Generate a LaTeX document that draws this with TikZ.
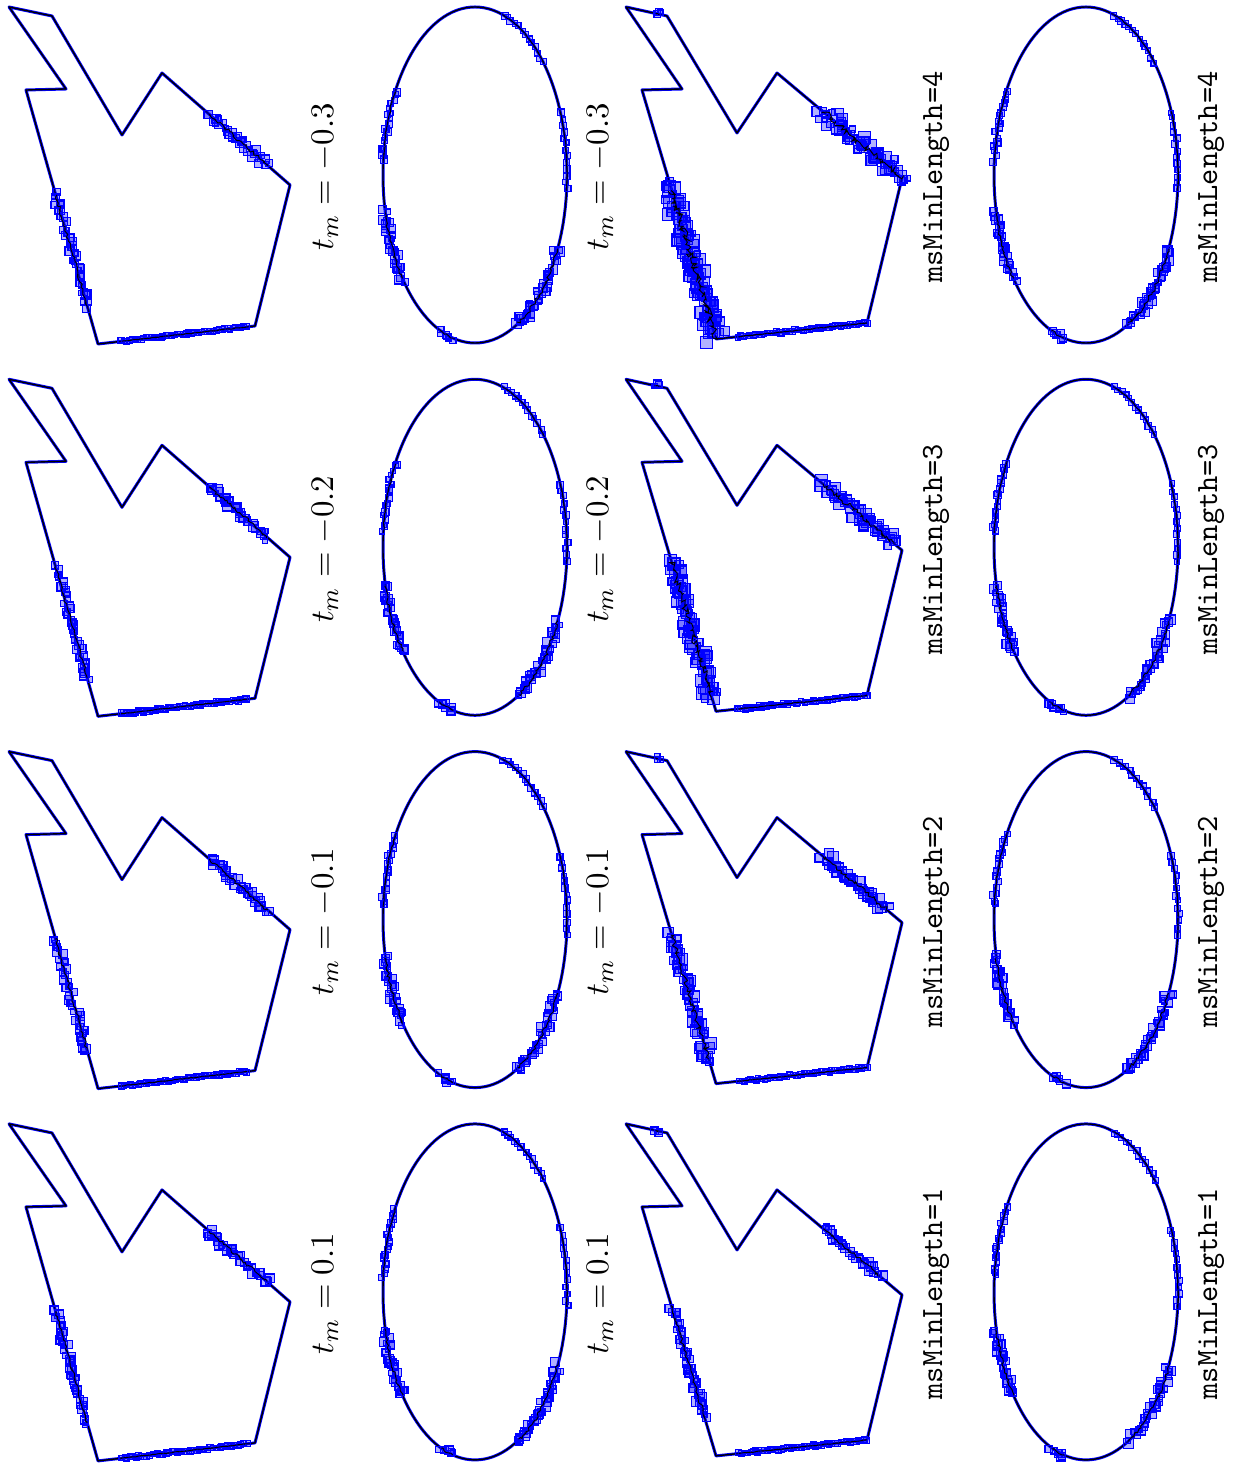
\documentclass[tikz,border=0pt]{standalone}
\usetikzlibrary{calc}

\newcommand\segclust[6]{%
  \pgfmathsetmacro\tst{#3}\pgfmathsetmacro\ten{#4}%
  \pgfmathtruncatemacro\nn{#5}\pgfmathsetmacro\ww{#6}%
  \foreach \k in {0,...,\nn}{
    \pgfmathsetmacro\tpos{\tst+(\ten-\tst)*\k/\nn}
    \pgfmathsetmacro\sqs{min(5+0.6*\ww*rnd,12)}
    \draw[sq] ($(#1)!\tpos!(#2)+({0.5*\ww*rand},{0.5*\ww*rand})$)
      ++(-\sqs/2,-\sqs/2) rectangle ++(\sqs,\sqs);
  }
  \draw[zig] ($(#1)!\tst!(#2)$) \foreach \k [evaluate=\k as \tpos using \tst+(\ten-\tst)*\k/\nn] in {1,...,\nn}{
    -- ($(#1)!\tpos!(#2)+({0.2*\ww*rand},{0.2*\ww*rand})$)};
}
\newcommand\ellclust[5]{%
  \pgfmathsetmacro\aone{#2}\pgfmathsetmacro\atwo{#3}%
  \pgfmathtruncatemacro\nn{#4}\pgfmathsetmacro\ww{#5}%
  \foreach \k in {0,...,\nn}{
    \pgfmathsetmacro\apos{(\aone)+((\atwo)-(\aone))*\k/\nn}
    \pgfmathsetmacro\sqs{5+0.6*\ww*rnd}
    \draw[sq] ($(#1)+({92*cos(\apos)+0.5*\ww*rand},{168*sin(\apos)+0.5*\ww*rand})$)
      ++(-\sqs/2,-\sqs/2) rectangle ++(\sqs,\sqs);
  }
  \draw[zig] ($(#1)+({92*cos(\aone)},{168*sin(\aone)})$) \foreach \k [evaluate=\k as \apos using (\aone)+((\atwo)-(\aone))*\k/\nn] in {1,...,\nn}{
    -- ($(#1)+({92*cos(\apos)+0.2*\ww*rand},{168*sin(\apos)+0.2*\ww*rand})$)};
}
\newcommand\ellset[1]{%
  \ellclust{#1}{-72}{-42}{12}{3}
  \ellclust{#1}{-22}{5}{12}{3}
  \ellclust{#1}{26}{62}{36}{8}
  \ellclust{#1}{104}{112}{6}{6}
  \ellclust{#1}{142}{167}{30}{7}
  \ellclust{#1}{185}{210}{16}{4}
}

\begin{document}
\begin{tikzpicture}[x=0.3333pt, y=-0.3333pt,
  halo/.style={blue, line width=1pt, line join=round},
  core/.style={black, line width=0.45pt, line join=round},
  sq/.style={draw=blue, fill=blue, fill opacity=0.3, line width=0.4pt},
  zig/.style={black, line width=0.3pt},
  tmlbl/.style={rotate=90, font=\fontsize{10.95}{13}\selectfont},
  mslbl/.style={rotate=90, font=\fontsize{10.3}{12}\selectfont\ttfamily}
]
\pgfmathsetseed{11}
\useasboundingbox (0,0) rectangle (1232,1464);
\foreach \r/\tm/\ms in {0/-0.3/4, 1/-0.2/3, 2/-0.1/2, 3/0.1/1}{
\begin{scope}[shift={(0,372.3*\r)}]
  \coordinate (v1) at (9,7);    \coordinate (v2) at (52,16);
  \coordinate (v3) at (122,135); \coordinate (v4) at (162,73);
  \coordinate (v5) at (290,185); \coordinate (v6) at (255,326);
  \coordinate (v7) at (98,344);  \coordinate (v8) at (26,90);
  \coordinate (v9) at (66,89);
  \foreach \st in {halo,core}
    \draw[\st] (v1) -- (v2) -- (v3) -- (v4) -- (v5) -- (v6) -- (v7) -- (v8) -- (v9) -- cycle;
  \segclust{v4}{v5}{0.37}{0.82}{32}{8}
  \segclust{v7}{v8}{0.15}{0.59}{40}{7}
  \segclust{v6}{v7}{0.05}{0.85}{45}{2}

  \coordinate (ce) at (475,175);
  \foreach \st in {halo,core}
    \draw[\st] (ce) ellipse [x radius=92, y radius=168];
  \ellset{ce}

  \coordinate (w1) at (626,7);   \coordinate (w2) at (667,16);
  \coordinate (w3) at (737,133); \coordinate (w4) at (777,73);
  \coordinate (w5) at (902,178); \coordinate (w6) at (867,323);
  \coordinate (w7) at (716,339); \coordinate (w8) at (642,90);
  \coordinate (w9) at (682,89);
  \foreach \st in {halo,core}
    \draw[\st] (w1) -- (w2) -- (w3) -- (w4) -- (w5) -- (w6) -- (w7) -- (w8) -- (w9) -- cycle;
  \segclust{w7}{w8}{0.2-0.05*\ms}{0.6}{20+22*\ms}{4+3.5*\ms}
  \segclust{w4}{w5}{0.37}{0.76+0.06*\ms}{20+10*\ms}{6+2*\ms}
  \segclust{w6}{w7}{0.0}{0.85}{45}{2}
  \segclust{w1}{w2}{0.72}{0.8}{2}{5}

  \coordinate (cf) at (1086,175);
  \foreach \st in {halo,core}
    \draw[\st] (cf) ellipse [x radius=92, y radius=168];
  \ellset{cf}

  \node[tmlbl] (tma\r) at (325,177) {$t_m=\tm$};
  \node[tmlbl] (tmb\r) at (600,177) {$t_m=\tm$};
  \node[mslbl] (msa\r) at (936,177) {msMinLength=\ms};
  \node[mslbl] (msb\r) at (1211,177) {msMinLength=\ms};
\end{scope}}
\end{tikzpicture}
\end{document}
